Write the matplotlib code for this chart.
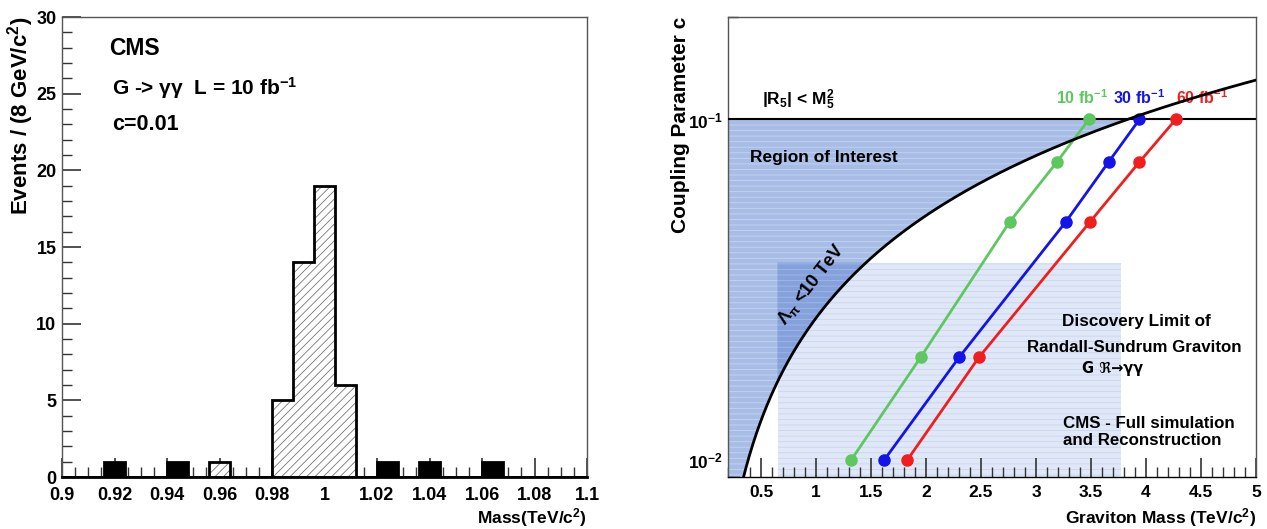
import numpy as np
import matplotlib
matplotlib.use("Agg")
import matplotlib.pyplot as plt
from matplotlib.ticker import MultipleLocator, FuncFormatter, LogLocator, NullFormatter

plt.rcParams['font.family'] = ['Liberation Sans', 'DejaVu Sans']
plt.rcParams['font.weight'] = 'bold'
plt.rcParams['mathtext.default'] = 'regular'
plt.rcParams['hatch.linewidth'] = 0.6

# ---------------- Left panel data ----------------
bin_lo, bin_hi, bin_w = 0.9, 1.1, 0.008
signal_counts = [0, 0, 0, 0, 0, 0, 0, 1, 0, 0, 5, 14, 19, 6, 0,
                 0, 0, 0, 0, 0, 0, 0, 0, 0, 0]
background_counts = [0, 0, 1, 0, 0, 1, 0, 0, 0, 0, 0, 0, 0, 0, 0,
                     1, 0, 1, 0, 0, 1, 0, 0, 0, 0]
left_xticks = [0.9, 0.92, 0.94, 0.96, 0.98, 1.0, 1.02, 1.04, 1.06, 1.08, 1.1]

# ---------------- Right panel data ----------------
coupling = [0.01, 0.02, 0.05, 0.075, 0.1]
mass_10fb = [1.32, 1.95, 2.76, 3.19, 3.48]
mass_30fb = [1.62, 2.30, 3.27, 3.66, 3.94]
mass_60fb = [1.83, 2.48, 3.49, 3.94, 4.27]
lumi_labels = ['10 fb$^{-1}$', '30 fb$^{-1}$', '60 fb$^{-1}$']
lumi_colors = ['#5fc75f', '#1414e6', '#f01e1e']
lumi_label_x = [3.42, 3.94, 4.51]
x1_bessel = 3.83       # first zero of Bessel J1
lambda_pi = 10.0       # TeV
c_limit = 0.1          # |R5| < M5^2 bound
rect_x = (0.65, 3.77)  # light rectangle (mass range)
rect_ctop = 0.038

fig = plt.figure(figsize=(12.67, 5.29), dpi=100)

# ================= LEFT =================
axL = fig.add_axes([62/1267, 1-477/529, 525/1267, 460/529])
nb = len(signal_counts)
edges = bin_lo + bin_w * np.arange(nb + 1)
sig = np.array(signal_counts, float)
bkg = np.array(background_counts, float)
axL.stairs(sig, edges, baseline=0, fill=True, facecolor='white',
           edgecolor='#777777', hatch='////', linewidth=0, zorder=2)
axL.stairs(bkg, edges, baseline=0, fill=True, facecolor='black',
           edgecolor='black', linewidth=0, zorder=3)
total = sig + bkg
axL.stairs(total, edges, baseline=0, fill=False, color='black', lw=2.0, zorder=4)
axL.plot([bin_lo, bin_hi], [0, 0], color='black', lw=2.0, zorder=4)

axL.set_xlim(bin_lo, bin_hi)
axL.set_ylim(0, 30)
axL.set_xticks(left_xticks)
axL.xaxis.set_major_formatter(FuncFormatter(lambda v, p: f"{v:g}"))
axL.xaxis.set_minor_locator(MultipleLocator(0.005))
axL.yaxis.set_major_locator(MultipleLocator(5))
axL.yaxis.set_minor_locator(MultipleLocator(1))
axL.tick_params(which='both', direction='in', top=False, right=False,
                labelsize=13, color='#333333')
axL.tick_params(which='major', length=14, width=1.2)
axL.tick_params(which='minor', length=7, width=1.0)
axL.tick_params(axis='x', pad=7)
axL.tick_params(axis='y', pad=4)
for lab in axL.get_xticklabels() + axL.get_yticklabels():
    lab.set_fontweight('bold')
for s in ['top', 'right', 'left']:
    axL.spines[s].set_color('#555555')
    axL.spines[s].set_linewidth(1.0)
axL.spines['bottom'].set_linewidth(2.0)

axL.set_ylabel('Events / (8 GeV/c$^2$)', loc='top', fontsize=16, fontweight='bold')
axL.yaxis.set_label_coords(-0.05, 1.0)
axL.set_xlabel('Mass(TeV/c$^2$)', loc='right', fontsize=12.5, fontweight='bold')
axL.xaxis.set_label_coords(1.0, -0.063)

axL.text(0.918, 27.5, 'CMS', fontsize=16.5, fontweight='bold', va='baseline')
axL.text(0.919, 24.9, r'G -> $\gamma\gamma$  L = 10 fb$^{-1}$', fontsize=15,
         fontweight='bold', va='baseline')
axL.text(0.919, 22.6, 'c=0.01', fontsize=15.5, fontweight='bold', va='baseline')

# ================= RIGHT =================
axR = fig.add_axes([728/1267, 1-476.7/529, 528/1267, 459.7/529])
xmin, xmax = 0.2, 5.0
ymin, ymax = 0.00893, 0.2
scale = x1_bessel * lambda_pi

roi_col = '#a8bde6'
roi_hatch = '#c6d4f0'
light_col = '#e0e8f8'
light_hatch = '#c8d5ef'
dark_col = '#85a1dc'
dark_hatch = '#a2b8e6'

axR.fill_between(list(rect_x), ymin, rect_ctop, facecolor=light_col,
                 edgecolor=light_hatch, hatch='---', linewidth=0, zorder=1)
cg = np.geomspace(ymin, c_limit, 400)
axR.fill_betweenx(cg, xmin, cg * scale, facecolor=roi_col,
                  edgecolor=roi_hatch, hatch='---', linewidth=0, zorder=2)
cg2 = np.geomspace(rect_x[0] / scale, rect_ctop, 300)
axR.fill_betweenx(cg2, rect_x[0], cg2 * scale, facecolor=dark_col,
                  edgecolor=dark_hatch, hatch='---', linewidth=0, zorder=3)

cg3 = np.geomspace(ymin, xmax / scale, 400)
axR.plot(cg3 * scale, cg3, color='black', lw=2.0, zorder=6)
axR.plot([xmin, xmax], [c_limit, c_limit], color='black', lw=1.5, zorder=5)

for m, col in zip([mass_10fb, mass_30fb, mass_60fb], lumi_colors):
    axR.plot(m, coupling, '-o', color=col, lw=2.0, ms=8, zorder=5)
for lab, lx, col in zip(lumi_labels, lumi_label_x, lumi_colors):
    axR.text(lx, 0.1107, lab, color=col, fontsize=11.5, fontweight='bold',
             ha='center', va='baseline', zorder=4)

axR.set_yscale('log')
axR.set_xlim(xmin, xmax)
axR.set_ylim(ymin, ymax)
axR.xaxis.set_major_locator(MultipleLocator(0.5))
axR.xaxis.set_minor_locator(MultipleLocator(0.1))
axR.xaxis.set_major_formatter(FuncFormatter(lambda v, p: f"{v:g}" if v > 0.3 else ""))
axR.yaxis.set_major_locator(LogLocator(base=10, numticks=10))
axR.yaxis.set_minor_locator(LogLocator(base=10, subs=np.arange(2, 10), numticks=20))
axR.yaxis.set_minor_formatter(NullFormatter())
axR.tick_params(which='both', direction='in', top=False, right=False,
                labelsize=12.5, color='#333333')
axR.tick_params(which='major', length=14, width=1.2)
axR.tick_params(which='minor', length=7, width=1.0)
axR.tick_params(axis='x', pad=6)
for lab in axR.get_xticklabels() + axR.get_yticklabels():
    lab.set_fontweight('bold')
for s in ['top', 'right', 'left', 'bottom']:
    axR.spines[s].set_color('#555555')
    axR.spines[s].set_linewidth(1.0)
axR.spines['bottom'].set_color('black')

axR.set_ylabel('Coupling Parameter c', loc='top', fontsize=15, fontweight='bold')
axR.yaxis.set_label_coords(-0.072, 1.0)
axR.set_xlabel('Graviton Mass (TeV/c$^2$)', loc='right', fontsize=12.5, fontweight='bold')
axR.xaxis.set_label_coords(1.0, -0.063)

axR.text(0.509, 0.1107, '|R$_5$| < M$_5^2$', fontsize=12.5, fontweight='bold', va='baseline', zorder=7)
axR.text(0.40, 0.0749, 'Region of Interest', fontsize=12.5, fontweight='bold', va='baseline', zorder=7)
axR.text(0.96, 0.0328, r'$\Lambda_\pi$ <10 TeV', fontsize=13, fontweight='bold',
         rotation=52, ha='center', va='center', zorder=7)
axR.text(3.915, 0.0247, 'Discovery Limit of', fontsize=12.3, fontweight='bold',
         ha='center', va='baseline', zorder=7)
axR.text(3.89, 0.0208, 'Randall-Sundrum Graviton', fontsize=12.2, fontweight='bold',
         ha='center', va='baseline', zorder=7)
axR.text(3.70, 0.0180, 'G ℜ→γγ', fontsize=10.5, fontweight='bold',
         ha='center', va='baseline', zorder=7, family=['DejaVu Sans'])
axR.text(3.245, 0.01244, 'CMS - Full simulation', fontsize=12.2, fontweight='bold',
         va='baseline', zorder=7)
axR.text(3.245, 0.01108, 'and Reconstruction', fontsize=12.2, fontweight='bold',
         va='baseline', zorder=7)

fig.savefig('out.png', dpi=100)
